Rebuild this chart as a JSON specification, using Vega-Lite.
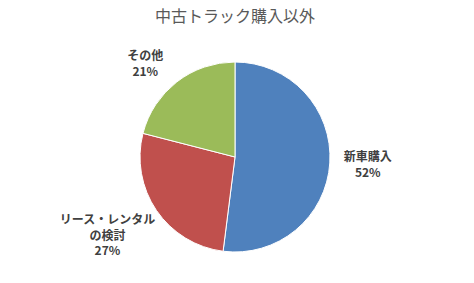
{
  "$schema": "https://vega.github.io/schema/vega-lite/v6.json",
  "autosize": "none",
  "width": 470,
  "height": 252,
  "padding": {"top": 31, "left": 0, "right": 4, "bottom": 0},
  "background": "white",
  "title": {
    "text": "中古トラック購入以外",
    "font": "Noto Sans CJK JP",
    "fontSize": 16,
    "fontWeight": "normal",
    "color": "#595959",
    "offset": 6,
    "anchor": "middle"
  },
  "data": {
    "values": [
      {"category": "新車購入", "value": 52, "label": "新車購入\n52%"},
      {"category": "リース・レンタルの検討", "value": 27, "label": "リース・レンタル\nの検討\n27%"},
      {"category": "その他", "value": 21, "label": "その他\n21%"}
    ]
  },
  "encoding": {
    "theta": {"field": "value", "type": "quantitative", "stack": true},
    "order": {"field": "value", "sort": "descending"}
  },
  "layer": [
    {
      "mark": {"type": "arc", "outerRadius": 95, "stroke": "white", "strokeWidth": 1},
      "encoding": {
        "color": {
          "field": "category",
          "type": "nominal",
          "scale": {
            "domain": ["新車購入", "リース・レンタルの検討", "その他"],
            "range": ["#4F81BD", "#C0504D", "#9BBB59"]
          },
          "legend": null
        }
      }
    },
    {
      "mark": {
        "type": "text", "font": "Noto Sans CJK JP", "fontSize": 12, "fontWeight": "bold",
        "color": "#404040", "lineBreak": "\n", "lineHeight": 16, "align": "center",
        "baseline": "middle", "radius": 130, "dy": -8, "dx": 3
      },
      "encoding": {"text": {"condition": {"test": "datum.category == '新車購入'", "field": "label"}, "value": ""}}
    },
    {
      "mark": {
        "type": "text", "font": "Noto Sans CJK JP", "fontSize": 12, "fontWeight": "bold",
        "color": "#404040", "lineBreak": "\n", "lineHeight": 15.5, "align": "center",
        "baseline": "middle", "radius": 130, "dy": -10, "dx": -20
      },
      "encoding": {"text": {"condition": {"test": "datum.category == 'リース・レンタルの検討'", "field": "label"}, "value": ""}}
    },
    {
      "mark": {
        "type": "text", "font": "Noto Sans CJK JP", "fontSize": 12, "fontWeight": "bold",
        "color": "#404040", "lineBreak": "\n", "lineHeight": 16, "align": "center",
        "baseline": "middle", "radius": 130, "dy": 2, "dx": -10
      },
      "encoding": {"text": {"condition": {"test": "datum.category == 'その他'", "field": "label"}, "value": ""}}
    }
  ]
}
